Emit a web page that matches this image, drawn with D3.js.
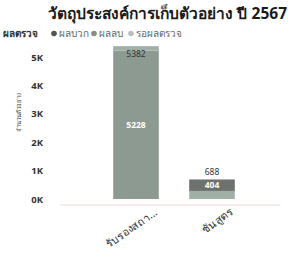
<!DOCTYPE html>
<html><head><meta charset="utf-8">
<script src="https://cdn.jsdelivr.net/npm/d3@7"></script>
<style>body{margin:0;background:#fff}svg{display:block;font-family:"Noto Sans",sans-serif}</style>
</head><body><svg id="c" width="294" height="259"></svg>
<script>
const title = "วัตถุประสงค์การเก็บตัวอย่าง ปี 2567";
const legendTitle = "ผลตรวจ";
const categories = ["รับรองสถา...", "ชันสูตร"];
const seriesNames = ["ผลบวก", "ผลลบ", "รอผลตรวจ"];
const stackOrder = ["ผลลบ", "รอผลตรวจ", "ผลบวก"];
const positive = [0, 404];
const negative = [5228, 0];
const pending = [154, 284];
const yTicks = [0, 1000, 2000, 3000, 4000, 5000];
const yTitle = "จำนวนตัวอย่าง";
const colors = {"ผลบวก": "#6c726e", "ผลลบ": "#8d9a92", "รอผลตรวจ": "#a0b0a7"};
const legendDot = {"ผลบวก": "#4f5451", "ผลลบ": "#868f8a", "รอผลตรวจ": "#b8bfbb"};

const rows = categories.map((c, i) => ({cat: c, "ผลบวก": positive[i], "ผลลบ": negative[i], "รอผลตรวจ": pending[i]}));
const totals = rows.map(r => seriesNames.reduce((s, k) => s + r[k], 0));

const svg = d3.select("#c");
const x = d3.scaleBand().domain(categories).range([98, 250]).paddingInner(0.4).paddingOuter(0.2);
const y = d3.scaleLinear().domain([0, 5000]).range([199, 57]);

svg.append("text").attr("x", 287).attr("y", 19).attr("text-anchor", "end")
  .attr("font-size", 15.5).attr("font-weight", "bold").attr("fill", "#1a1a1a").text(title);

// legend
const lg = svg.append("g").attr("transform", "translate(3,37)");
lg.append("text").attr("x", 0).attr("y", 0).attr("font-size", 10).attr("font-weight", "bold").attr("fill", "#333").text(legendTitle);
let lx = 48;
const lw = [40, 37, 45];
seriesNames.forEach((s, i) => {
  lg.append("circle").attr("cx", lx + 3).attr("cy", -3.5).attr("r", 2.8).attr("fill", legendDot[s]);
  lg.append("text").attr("x", lx + 8).attr("y", 0).attr("font-size", 10).attr("fill", "#666").text(s);
  lx += lw[i];
});

// baseline
svg.append("line").attr("x1", 60).attr("x2", 280).attr("y1", y(0) + 6).attr("y2", y(0) + 6)
  .attr("stroke", "#f3dada").attr("stroke-width", 1);

// y axis
const ya = svg.append("g").attr("transform", "translate(43,0)")
  .call(d3.axisLeft(y).tickValues(yTicks).tickSize(0).tickPadding(0).tickFormat(d => (d / 1000) + "K"));
ya.select(".domain").remove();
ya.selectAll("text").attr("font-size", 9.5).attr("font-weight", "bold").attr("fill", "#333").attr("font-family", "'Noto Sans',sans-serif");

svg.append("text").attr("transform", "translate(21,112) rotate(-90)").attr("text-anchor", "middle")
  .attr("font-size", 6).attr("fill", "#444").text(yTitle);

// bars
const stacked = d3.stack().keys(stackOrder)(rows);
const g = svg.append("g");
stacked.forEach(layer => {
  g.selectAll(null).data(layer).enter().append("rect")
    .attr("x", d => x(d.data.cat)).attr("width", x.bandwidth())
    .attr("y", d => y(d[1])).attr("height", d => y(d[0]) - y(d[1]))
    .attr("fill", colors[layer.key]);
  g.selectAll(null).data(layer.filter(d => (y(d[0]) - y(d[1])) > 10)).enter().append("text")
    .attr("x", d => x(d.data.cat) + x.bandwidth() / 2).attr("y", d => (y(d[0]) + y(d[1])) / 2 + 3)
    .attr("text-anchor", "middle").attr("font-size", 8.5).attr("font-weight", "bold").attr("fill", "#fff")
    .text(d => d[1] - d[0]);
});
// totals
rows.forEach((r, i) => {
  const top = y(totals[i]);
  const inside = top - 4 < 50;
  svg.append("text").attr("x", x(r.cat) + x.bandwidth() / 2)
    .attr("y", inside ? top + 11 : top - 4).attr("text-anchor", "middle")
    .attr("font-size", 8.5).attr("fill", "#333").text(totals[i]);
});

// x labels
categories.forEach(c => {
  svg.append("text").attr("transform", `translate(${x(c) + x.bandwidth() / 2 + 22},${214}) rotate(-35)`)
    .attr("text-anchor", "end").attr("font-size", 11).attr("fill", "#333").text(c);
});
</script></body></html>
